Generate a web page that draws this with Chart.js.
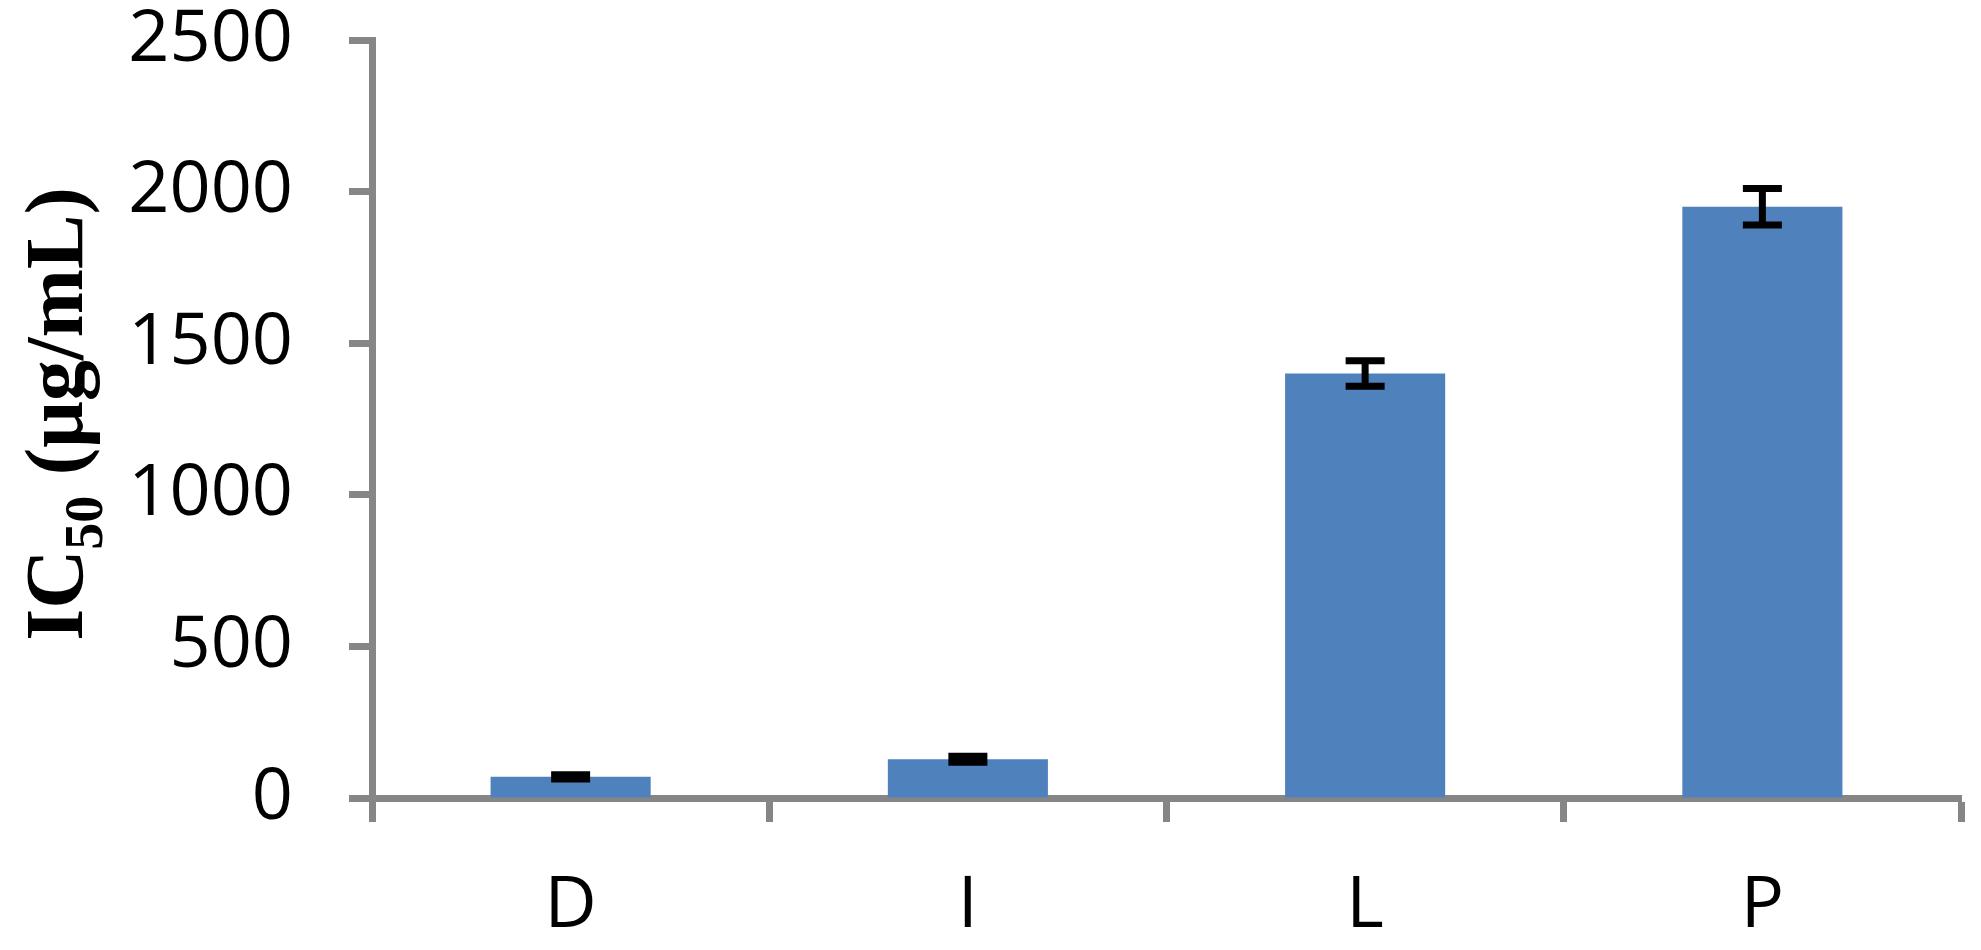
<!DOCTYPE html>
<html><head><meta charset="utf-8">
<script src="https://cdn.jsdelivr.net/npm/chart.js@4"></script>
<style>html,body{margin:0;padding:0;background:#fff}</style>
</head><body>
<canvas id="c" width="1981" height="950"></canvas>
<script>
const categories = ['D', 'I', 'L', 'P'];
const ic50 = [70, 128, 1400, 1950];
const ic50Err = [7, 10, 42, 60];
const yTicks = [0, 500, 1000, 1500, 2000, 2500];
const titleMain = 'IC';
const titleSub = '50';
const titleRest = ' (μg/mL)';

const AXIS = '#868686';

const errorBars = {
  id: 'errorBars',
  afterDatasetsDraw(chart) {
    const meta = chart.getDatasetMeta(0);
    const y = chart.scales.y;
    const ctx = chart.ctx;
    ctx.save();
    ctx.strokeStyle = '#000';
    ctx.lineWidth = 7;
    ctx.lineCap = 'butt';
    meta.data.forEach((bar, i) => {
      const x = bar.x;
      const t = y.getPixelForValue(ic50[i] + ic50Err[i]);
      const b = y.getPixelForValue(ic50[i] - ic50Err[i]);
      const hw = 19.5;
      ctx.beginPath();
      ctx.moveTo(x, t); ctx.lineTo(x, b);
      ctx.moveTo(x - hw, t); ctx.lineTo(x + hw, t);
      ctx.moveTo(x - hw, b); ctx.lineTo(x + hw, b);
      ctx.stroke();
    });
    ctx.restore();
  }
};

const yTitle = {
  id: 'yTitle',
  afterDraw(chart) {
    const ctx = chart.ctx;
    const big = 'bold 82px "Liberation Serif"';
    const small = 'bold 54px "Liberation Serif"';
    ctx.save();
    ctx.font = big; const w1 = ctx.measureText(titleMain).width;
    const w3 = ctx.measureText(titleRest).width;
    ctx.font = small; const w2 = ctx.measureText(titleSub).width;
    const total = w1 + w2 + w3;
    const cx = 82, cy = 414;
    ctx.translate(cx, cy);
    ctx.rotate(-Math.PI / 2);
    ctx.fillStyle = '#000';
    ctx.textBaseline = 'alphabetic';
    ctx.textAlign = 'left';
    let x = -total / 2;
    ctx.font = big; ctx.fillText(titleMain, x, 0); x += w1;
    ctx.font = small; ctx.fillText(titleSub, x, 20); x += w2;
    ctx.font = big; ctx.fillText(titleRest, x, 0);
    ctx.restore();
  }
};

new Chart(document.getElementById('c'), {
  type: 'bar',
  data: {
    labels: categories,
    datasets: [{
      data: ic50,
      backgroundColor: '#4F81BD',
      borderWidth: 0,
      categoryPercentage: 1,
      barPercentage: 0.403
    }]
  },
  options: {
    responsive: false,
    animation: false,
    devicePixelRatio: 1,
    layout: { padding: { top: 40, right: 20, left: 0, bottom: 0 } },
    plugins: { legend: { display: false }, tooltip: { enabled: false } },
    scales: {
      x: {
        offset: true,
        grid: { display: true, offset: true, drawOnChartArea: false, drawTicks: true, tickLength: 24, tickWidth: 7, color: AXIS },
        border: { display: true, color: AXIS, width: 7 },
        ticks: { color: '#000', font: { family: '"Open Sans"', size: 72, lineHeight: 1.0 }, padding: 48, maxRotation: 0 },
        afterFit(s) { s.height = 152; s.paddingLeft = 0; s.paddingRight = 0; }
      },
      y: {
        min: 0, max: 2500,
        afterBuildTicks(s) { s.ticks = yTicks.map(v => ({ value: v })); },
        grid: { display: true, drawOnChartArea: false, drawTicks: true, tickLength: 23, tickWidth: 7, color: AXIS },
        border: { display: true, color: AXIS, width: 7 },
        ticks: { color: '#000', font: { family: '"Open Sans"', size: 72, lineHeight: 1.0 }, padding: 56, callback: v => String(v) },
        afterFit(s) { s.width = 372; s.paddingTop = 0; s.paddingBottom = 0; }
      }
    }
  },
  plugins: [errorBars, yTitle]
});
</script>
</body></html>
